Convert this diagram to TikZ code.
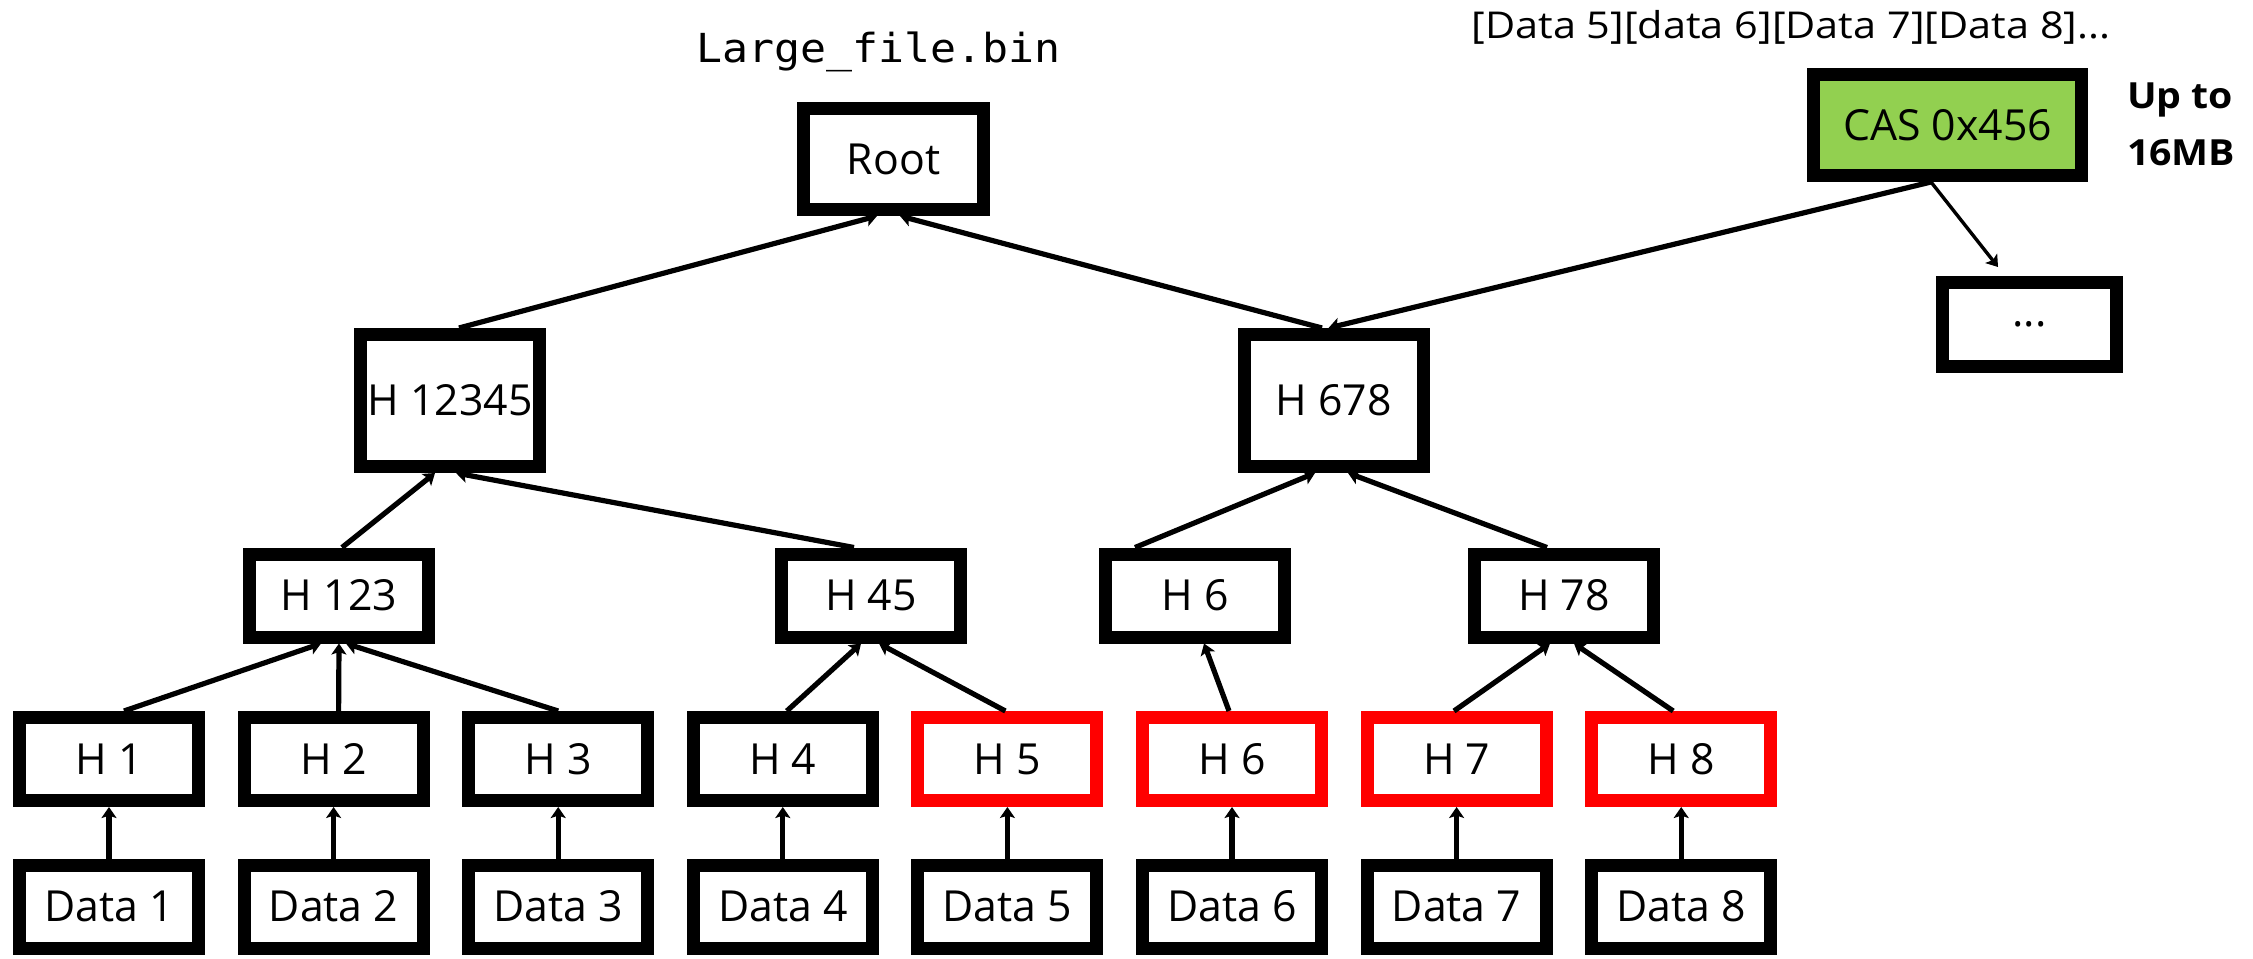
\documentclass[tikz,border=0pt]{standalone}
\usepackage{fontspec}
\setmainfont{Open Sans}
\newfontfamily\codefont{DejaVu Sans Mono}
\usetikzlibrary{arrows.meta,calc}

\definecolor{casgreen}{HTML}{92D050}
\definecolor{hotred}{HTML}{FF0000}
\newcommand\boxtextfont{\fontsize{21.4}{25}\selectfont}

\begin{document}
\begin{tikzpicture}[x=0.5pt,y=-0.5pt,
  every node/.style={inner sep=0pt, outer sep=0pt},
  blk/.style={draw=black, line width=6.5pt, fill=white, font=\boxtextfont,
    minimum width=89.5pt, minimum height=41.5pt},
  redblk/.style={blk, draw=hotred},
  link/.style={line width=2.6pt, line cap=butt,
    -{Stealth[length=5.5pt,width=7.5pt,inset=1.2pt]}},
  thinlink/.style={link, line width=1.7pt},
]
\useasboundingbox (0,0) rectangle (2253,958);

% captions
\node[anchor=base, font=\codefont\fontsize{20}{24}\selectfont] (fname) at (878.5,62)
  {\scalebox{1.08}[1]{Large\_file.bin}};
\node[anchor=base, font=\fontsize{18.5}{22}\selectfont] (chunks) at (1791,39)
  {\scalebox{1.12}[1]{[Data 5][data 6][Data 7][Data 8]...}};
\node[anchor=base west, font=\bfseries\fontsize{18}{22}\selectfont] (limit1) at (2127,108)
  {\scalebox{1.09}[1]{Up to}};
\node[anchor=base west, font=\bfseries\fontsize{18}{22}\selectfont] (limit2) at (2127,165)
  {\scalebox{1.09}[1]{16MB}};

% upper levels
\node[blk, minimum width=90pt, minimum height=50.5pt] (root) at (893.5,159) {Root};
\node[blk, minimum height=66pt] (h12345) at (450,400.5) {H 12345};
\node[blk, minimum height=66pt] (h678) at (1333.5,400.5) {H 678};
\node[blk, fill=casgreen, minimum width=134pt, minimum height=50.5pt] (cas) at (1947.5,125) {CAS 0x456};
\node[blk, minimum width=87pt, minimum height=42pt] (more) at (2029.5,324.5) {...};

% middle level
\node[blk] (h123) at (339,595.5) {H 123};
\node[blk] (h45)  at (871,595.5) {H 45};
\node[blk] (h6u)  at (1195,595.5) {H 6};
\node[blk] (h78)  at (1564,595.5) {H 78};

% leaf hashes and data blocks
\foreach \i/\cx/\st in {1/109/blk, 2/333.6/blk, 3/558.2/blk, 4/782.8/blk,
                        5/1007.4/redblk, 6/1232/redblk, 7/1456.6/redblk, 8/1681.2/redblk} {
  \node[\st] (h\i) at (\cx,759) {H \i};
  \node[blk] (d\i) at (\cx,906.5) {Data \i};
}

% data -> leaf hash
\foreach \i in {1,...,8}
  \draw[link] ($(d\i.north)+(0,-6.5)$) -- ($(h\i.south)+(0,6.5)$);

% leaf hash -> middle level
\draw[link] ($(h1.north)+(15,-6.5)$) -- ($(h123.south)+(-18,6.5)$);
\draw[link] ($(h2.north)+(5,-6.5)$)  -- ($(h123.south)+(0,6.5)$);
\draw[link] ($(h3.north)+(0,-6.5)$)  -- ($(h123.south)+(7,6.5)$);
\draw[link] ($(h4.north)+(4,-6.5)$)  -- ($(h45.south)+(-10,6.5)$);
\draw[link] ($(h5.north)+(-2,-6.5)$) -- ($(h45.south)+(8,6.5)$);
\draw[link] ($(h6.north)+(-3,-6.5)$) -- ($(h6u.south)+(9,6.5)$);
\draw[link] ($(h7.north)+(-2.6,-6.5)$) -- ($(h78.south)+(-14,6.5)$);
\draw[link] ($(h8.north)+(-8,-6.5)$) -- ($(h78.south)+(10,6.5)$);

% middle level -> second level
\draw[link] ($(h123.north)+(3,-6.5)$)  -- ($(h12345.south)+(-15,6.5)$);
\draw[link] ($(h45.north)+(-17,-6.5)$) -- ($(h12345.south)+(6,6.5)$);
\draw[link] ($(h6u.north)+(-60,-6.5)$) -- ($(h678.south)+(-18.5,6.5)$);
\draw[link] ($(h78.north)+(-17,-6.5)$) -- ($(h678.south)+(14.5,6.5)$);

% second level -> root
\draw[link] ($(h12345.north)+(9,-6.5)$) -- ($(root.south)+(-16.5,6.5)$);
\draw[link] ($(h678.north)+(-11.5,-6.5)$) -- ($(root.south)+(6.5,6.5)$);

% content-addressed chunk references
\draw[link] ($(cas.south)+(-16.5,6.5)$) -- ($(h678.north)+(-5,-6.5)$);
\draw[thinlink] ($(cas.south)+(-16.5,6.5)$) -- ($(more.north)+(-31.5,-15.5)$);
\end{tikzpicture}
\end{document}
